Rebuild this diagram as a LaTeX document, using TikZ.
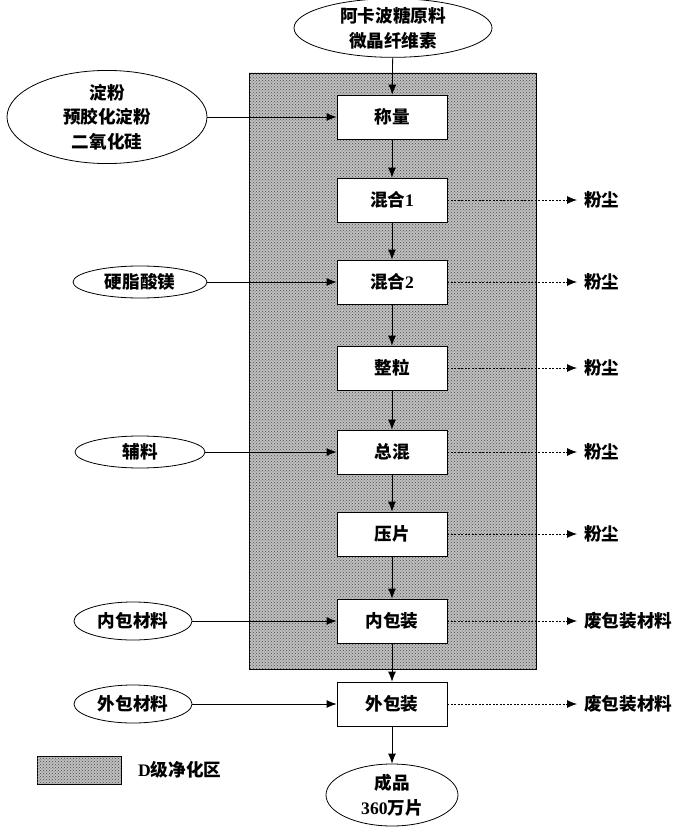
\documentclass[tikz,border=0pt]{standalone}
\usepackage{fontspec}
\setmainfont{Liberation Serif}
\newfontfamily\cjk{Noto Sans CJK SC}
\usetikzlibrary{arrows.meta,patterns,shapes.geometric}
\newcommand\zh[1]{{\cjk #1}}
\begin{document}
\begin{tikzpicture}[x=1pt,y=-1pt,
  every node/.style={font=\fontsize{17.6}{24.5}\selectfont\bfseries, inner sep=0pt},
  procbox/.style={draw, line width=0.8pt, fill=white, minimum width=110pt, minimum height=44pt},
  ell/.style={draw, line width=0.8pt, ellipse, fill=white, align=center},
  flow/.style={line width=0.8pt, -{Latex[length=10pt,width=8pt]}},
  waste/.style={line width=0.8pt, dash pattern=on 2pt off 1.5pt, -{Latex[length=10pt,width=8pt]}},
  cleanzone/.style={draw, line width=0.8pt, fill=gray!50, postaction={pattern=crosshatch dots, pattern color=black!70}},
  lab/.style={anchor=west}
]
\useasboundingbox (0,0) rectangle (692,832);
\fill[white] (0,0) rectangle (692,832);
% clean zone
\draw[cleanzone] (249,73) rectangle (536,669);
% legend
\draw[cleanzone] (37,756) rectangle (121,784);
\node[lab] (leg) at (138,770) {D\zh{级净化区}};

% process boxes
\node[procbox] (b1) at (392,117) {\zh{称量}};
\node[procbox] (b2) at (392,200) {\zh{混合}1};
\node[procbox] (b3) at (392,282) {\zh{混合}2};
\node[procbox] (b4) at (392,368) {\zh{整粒}};
\node[procbox] (b5) at (392,452) {\zh{总混}};
\node[procbox] (b6) at (392,534) {\zh{压片}};
\node[procbox] (b7) at (392,621) {\zh{内包装}};
\node[procbox] (b8) at (392,704) {\zh{外包装}};

% input ellipses
\node[ell, minimum width=198pt, minimum height=52pt] (top) at (393,28) {\zh{阿卡波糖原料}\\\zh{微晶纤维素}};
\node[ell, minimum width=200pt, minimum height=86pt] (e1) at (107,117) {\zh{淀粉}\\\zh{预胶化淀粉}\\\zh{二氧化硅}};
\node[ell, minimum width=134pt, minimum height=32pt] (e2) at (140,282) {\zh{硬脂酸镁}};
\node[ell, minimum width=130pt, minimum height=32pt] (e3) at (140,452) {\zh{辅料}};
\node[ell, minimum width=118pt, minimum height=38pt] (e4) at (133,621) {\zh{内包材料}};
\node[ell, minimum width=118pt, minimum height=38pt] (e5) at (133,704) {\zh{外包材料}};
\node[ell, minimum width=132pt, minimum height=62pt] (out) at (392,795) {\zh{成品}\\360\zh{万片}};

% waste labels
\coordinate (w2) at (577,200);
\coordinate (w3) at (577,282);
\coordinate (w4) at (577,368);
\coordinate (w5) at (577,452);
\coordinate (w6) at (577,534);
\coordinate (w7) at (577,621);
\coordinate (w8) at (577,704);
\node[lab] (l2) at (584,200) {\zh{粉尘}};
\node[lab] (l3) at (584,282) {\zh{粉尘}};
\node[lab] (l4) at (584,368) {\zh{粉尘}};
\node[lab] (l5) at (584,452) {\zh{粉尘}};
\node[lab] (l6) at (584,534) {\zh{粉尘}};
\node[lab] (l7) at (584,621) {\zh{废包装材料}};
\node[lab] (l8) at (584,704) {\zh{废包装材料}};

% main flow
\draw[flow] (top) -- (b1);
\draw[flow] (b1) -- (b2);
\draw[flow] (b2) -- (b3);
\draw[flow] (b3) -- (b4);
\draw[flow] (b4) -- (b5);
\draw[flow] (b5) -- (b6);
\draw[flow] (b6) -- (b7);
\draw[flow] (b7) -- (b8);
\draw[flow] (b8) -- (out);

% inputs
\draw[flow] (e1) -- (b1);
\draw[flow] (e2) -- (b3);
\draw[flow] (e3) -- (b5);
\draw[flow] (e4) -- (b7);
\draw[flow] (e5) -- (b8);

% wastes
\foreach \i in {2,...,8} \draw[waste] (b\i.east) -- (w\i);
\end{tikzpicture}
\end{document}
